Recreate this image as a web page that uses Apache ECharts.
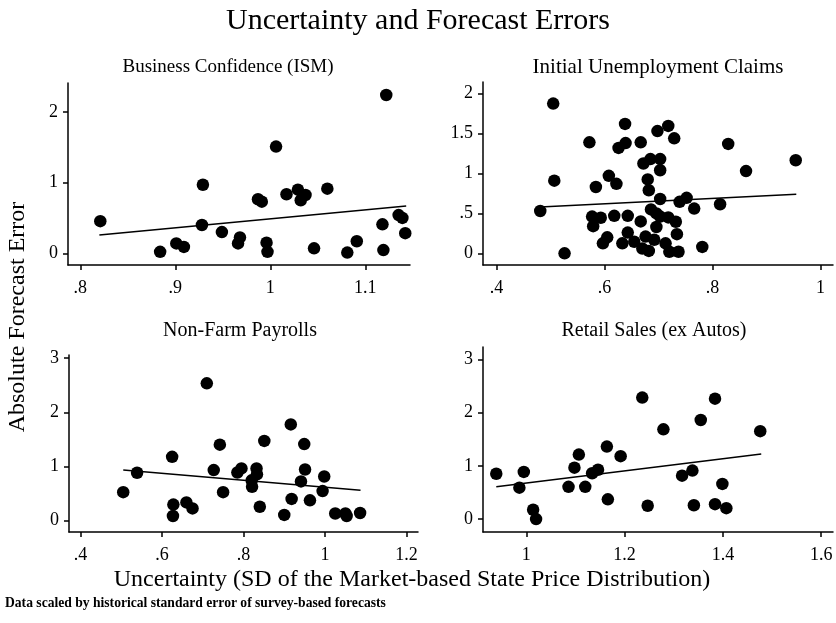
<!DOCTYPE html>
<html>
<head>
<meta charset="utf-8">
<script src="https://cdn.jsdelivr.net/npm/echarts@6/dist/echarts.min.js"></script>
<style>
  html, body { margin: 0; padding: 0; background: #fff; }
  #container { width: 836px; height: 623px; }
</style>
</head>
<body>
<div id="container"></div>
<script>
// points: [uncertainty, abs forecast error]
var ismPoints = [
  [0.821, 0.455], [0.884, 0.02], [0.901, 0.14], [0.909, 0.09], [0.929, 0.97],
  [0.928, 0.40], [0.949, 0.30], [0.968, 0.225], [0.966, 0.14], [0.987, 0.765],
  [0.991, 0.73], [0.996, 0.15], [0.997, 0.02], [1.006, 1.51], [1.017, 0.835],
  [1.029, 0.90], [1.037, 0.825], [1.032, 0.75], [1.046, 0.07], [1.060, 0.915],
  [1.081, 0.01], [1.091, 0.17], [1.118, 0.41], [1.119, 0.045], [1.122, 2.24],
  [1.135, 0.54], [1.139, 0.50], [1.142, 0.285]
];
var claimsPoints = [
  [0.505, 1.875], [0.507, 0.91], [0.481, 0.53], [0.526, 0.0], [0.572, 1.39],
  [0.584, 0.83], [0.608, 0.97], [0.622, 0.87], [0.577, 0.46], [0.593, 0.445],
  [0.579, 0.34], [0.618, 0.47], [0.605, 0.2], [0.597, 0.125], [0.638, 1.62],
  [0.639, 1.38], [0.626, 1.32], [0.667, 1.39], [0.698, 1.53], [0.718, 1.595],
  [0.729, 1.44], [0.643, 0.47], [0.643, 0.26], [0.633, 0.125], [0.655, 0.145],
  [0.672, 1.125], [0.685, 1.18], [0.703, 1.18], [0.703, 1.04], [0.68, 0.925],
  [0.682, 0.79], [0.703, 0.68], [0.667, 0.40], [0.686, 0.55], [0.696, 0.5],
  [0.703, 0.46], [0.696, 0.33], [0.676, 0.21], [0.692, 0.17], [0.67, 0.06],
  [0.682, 0.03], [0.713, 0.125], [0.718, 0.45], [0.732, 0.395], [0.734, 0.24],
  [0.72, 0.02], [0.737, 0.02], [0.739, 0.645], [0.752, 0.695], [0.766, 0.56],
  [0.781, 0.08], [0.814, 0.615], [0.829, 1.37], [0.862, 1.03], [0.954, 1.165]
];
var payrollPoints = [
  [0.505, 0.52], [0.539, 0.88], [0.625, 1.175], [0.628, 0.29], [0.627, 0.08],
  [0.66, 0.33], [0.675, 0.22], [0.71, 2.535], [0.727, 0.93], [0.742, 1.40],
  [0.75, 0.52], [0.785, 0.885], [0.795, 0.96], [0.832, 0.96], [0.833, 0.85],
  [0.82, 0.74], [0.821, 0.62], [0.84, 0.25], [0.851, 1.47], [0.90, 0.1],
  [0.916, 1.775], [0.918, 0.395], [0.941, 0.72], [0.949, 1.41], [0.951, 0.94],
  [0.963, 0.37], [0.994, 0.54], [0.998, 0.81], [1.025, 0.125], [1.05, 0.125],
  [1.053, 0.08], [1.086, 0.135]
];
var retailPoints = [
  [0.939, 0.85], [0.986, 0.59], [0.995, 0.885], [1.014, 0.175], [1.02, 0.0],
  [1.086, 0.605], [1.098, 0.965], [1.107, 1.21], [1.12, 0.605], [1.134, 0.86],
  [1.146, 0.925], [1.164, 1.36], [1.166, 0.37], [1.192, 1.18], [1.236, 2.28],
  [1.247, 0.25], [1.279, 1.685], [1.317, 0.815], [1.338, 0.91], [1.341, 0.26],
  [1.355, 1.86], [1.384, 2.26], [1.384, 0.28], [1.399, 0.66], [1.407, 0.205],
  [1.476, 1.65]
];

// fitted lines, end points
var ismFit = [[0.82, 0.258], [1.143, 0.67]];
var claimsFit = [[0.481, 0.58], [0.955, 0.74]];
var payrollFit = [[0.505, 0.93], [1.087, 0.557]];
var retailFit = [[0.939, 0.605], [1.478, 1.22]];

// tick labels
var ismXTicks = [0.8, 0.9, 1, 1.1];
var ismYTicks = [0, 1, 2];
var claimsXTicks = [0.4, 0.6, 0.8, 1];
var claimsYTicks = [0, 0.5, 1, 1.5, 2];
var payrollXTicks = [0.4, 0.6, 0.8, 1, 1.2];
var payrollYTicks = [0, 1, 2, 3];
var retailXTicks = [1, 1.2, 1.4, 1.6];
var retailYTicks = [0, 1, 2, 3];

var panelTitles = ['Business Confidence (ISM)', 'Initial Unemployment Claims', 'Non-Farm Payrolls', 'Retail Sales (ex Autos)'];

var serif = '"Liberation Serif", "DejaVu Serif", serif';

function fmt(v) {
  return String(+v.toFixed(3)).replace(/^0\./, '.');
}

function makeAxis(idx, min, max, ticks, isY) {
  return {
    type: 'value',
    gridIndex: idx,
    min: min,
    max: max,
    axisLine: { show: true, onZero: false, lineStyle: { color: '#000', width: 1.5 } },
    axisTick: { show: true, inside: false, length: 5, customValues: ticks, lineStyle: { color: '#000', width: 1.5 } },
    axisLabel: {
      customValues: ticks,
      formatter: fmt,
      color: '#000',
      fontFamily: serif,
      fontSize: 18,
      margin: isY ? 10 : 14
    },
    splitLine: { show: false }
  };
}

function label(x, y, text, size, extra) {
  var el = {
    type: 'text', x: x, y: y,
    style: { text: text, font: size + 'px ' + serif, fill: '#000', textAlign: 'center', textVerticalAlign: 'middle' }
  };
  for (var k in extra) el[k] = extra[k];
  return el;
}

var dom = document.getElementById('container');
var myChart = echarts.init(dom, null, { renderer: 'canvas' });

var footnote = label(5, 603, 'Data scaled by historical standard error of survey-based forecasts', 13.6, {});
footnote.style.font = 'bold 13.6px ' + serif;
footnote.style.textAlign = 'left';

var option = {
  animation: false,
  backgroundColor: '#fff',
  grid: [
    { left: 68, top: 83, width: 342, height: 182, outerBoundsMode: 'none' },
    { left: 483, top: 82, width: 350, height: 183, outerBoundsMode: 'none' },
    { left: 69, top: 355, width: 349, height: 177, outerBoundsMode: 'none' },
    { left: 483, top: 347, width: 350, height: 185, outerBoundsMode: 'none' }
  ],
  xAxis: [
    makeAxis(0, 0.787, 1.147, ismXTicks, false),
    makeAxis(1, 0.375, 1.023, claimsXTicks, false),
    makeAxis(2, 0.372, 1.228, payrollXTicks, false),
    makeAxis(3, 0.912, 1.624, retailXTicks, false)
  ],
  yAxis: [
    makeAxis(0, -0.166, 2.41, ismYTicks, true),
    makeAxis(1, -0.146, 2.145, claimsYTicks, true),
    makeAxis(2, -0.217, 3.06, payrollYTicks, true),
    makeAxis(3, -0.243, 3.23, retailYTicks, true)
  ],
  series: [],
  graphic: [
    label(418, 21, 'Uncertainty and Forecast Errors', 30, {}),
    label(228, 67, panelTitles[0], 19, {}),
    label(658, 67, panelTitles[1], 21, {}),
    label(240, 331, panelTitles[2], 20, {}),
    label(654, 331, panelTitles[3], 20, {}),
    label(18, 317, 'Absolute Forecast Error', 24, { rotation: Math.PI / 2 }),
    label(412, 580, 'Uncertainty (SD of the Market-based State Price Distribution)', 24, {}),
    footnote
  ]
};

var allPoints = [ismPoints, claimsPoints, payrollPoints, retailPoints];
var allFits = [ismFit, claimsFit, payrollFit, retailFit];
for (var i = 0; i < 4; i++) {
  option.series.push({
    type: 'scatter',
    xAxisIndex: i,
    yAxisIndex: i,
    data: allPoints[i],
    symbol: 'circle',
    symbolSize: 12.5,
    itemStyle: { color: '#000', opacity: 1 },
    silent: true
  });
  option.series.push({
    type: 'line',
    xAxisIndex: i,
    yAxisIndex: i,
    data: allFits[i],
    showSymbol: false,
    lineStyle: { color: '#000', width: 1.5 },
    silent: true
  });
}

if (option && typeof option === 'object') {
  myChart.setOption(option, true);
}
</script>
</body>
</html>
